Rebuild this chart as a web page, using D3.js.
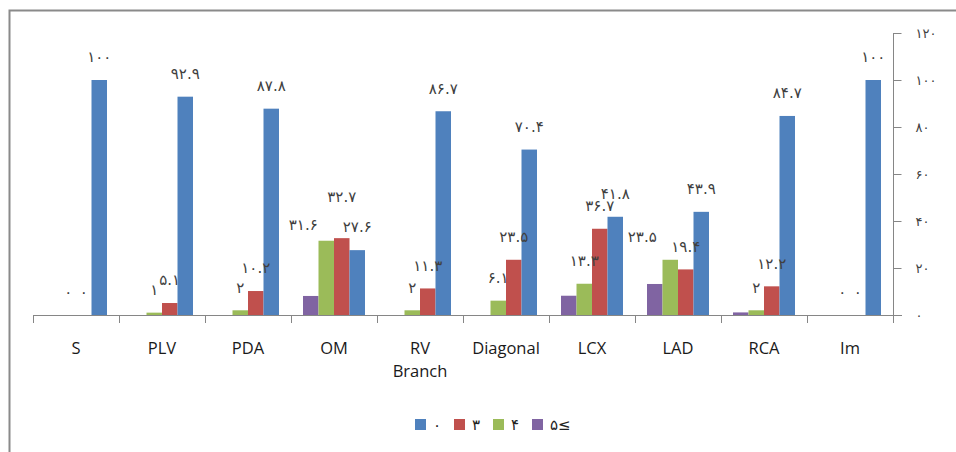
<!DOCTYPE html>
<html>
<head>
<meta charset="utf-8">
<script src="https://cdn.jsdelivr.net/npm/d3@7"></script>
<style>
  body { margin: 0; background: #fff; }
  svg { display: block; }
  .val { font-family: "DejaVu Sans", sans-serif; font-size: 15px; fill: #404040; }
  .cat { font-family: "Open Sans", sans-serif; font-size: 16.5px; fill: #1a1a1a; }
  .tick text { font-family: "DejaVu Sans", sans-serif; font-size: 13px; fill: #404040; }
  .leg { font-family: "DejaVu Sans", sans-serif; font-size: 15px; fill: #222; }
</style>
</head>
<body>
<script>
// chart data
const categories = ["S", "PLV", "PDA", "OM", "RV Branch", "Diagonal", "LCX", "LAD", "RCA", "Im"];
const seriesKeys = ["0", "3", "4", "5≤"];
const seriesLabels = ["۰", "۳", "۴", "۵≤"];
const values0 = [100, 92.9, 87.8, 27.6, 86.7, 70.4, 41.8, 43.9, 84.7, 100];
const values3 = [0, 5.1, 10.2, 32.7, 11.3, 23.5, 36.7, 19.4, 12.2, 0];
const values4 = [0, 1, 2, 31.6, 2, 6.1, 13.3, 23.5, 2, 0];
const values5 = [null, null, null, 8.1, null, null, 8.2, 13.2, 1.1, null];
const yTicks = [0, 20, 40, 60, 80, 100, 120];

const colors = {"0": "#4F81BD", "3": "#C0504D", "4": "#9BBB59", "5≤": "#8064A2"};
const barOrder = ["5≤", "4", "3", "0"];
const showLabel = {"0": true, "3": true, "4": true, "5≤": false};
// hand-moved labels in the original
const labelNudge = {"OM|4": [-23, 7], "OM|3": [0, -18], "LAD|4": [-28, 0]};

const faDigits = "۰۱۲۳۴۵۶۷۸۹";
const toFa = v => String(v).replace(/[0-9]/g, d => faDigits[+d]);

const rows = categories.map((c, i) => ({
  cat: c,
  "0": values0[i], "3": values3[i], "4": values4[i], "5≤": values5[i]
}));

const width = 956, height = 452;
const svg = d3.select("body").append("svg")
  .attr("width", width).attr("height", height);

// outer frame
svg.append("path")
  .attr("d", "M9.5,452V10.5H956")
  .attr("fill", "none").attr("stroke", "#8a8a8a").attr("stroke-width", 2);

const x0 = d3.scaleBand().domain(categories).range([33, 893]);
const x1 = d3.scaleBand().domain(barOrder).range([12, x0.bandwidth() - 12]);
const y = d3.scaleLinear().domain([0, 120]).range([315, 33]);

// bars
const groups = svg.append("g").selectAll("g")
  .data(rows).enter().append("g")
  .attr("transform", d => "translate(" + x0(d.cat) + ",0)");

groups.selectAll("rect")
  .data(d => barOrder.filter(k => d[k] != null).map(k => ({key: k, value: d[k]})))
  .enter().append("rect")
  .attr("x", d => x1(d.key))
  .attr("y", d => y(d.value))
  .attr("width", x1.bandwidth())
  .attr("height", d => y(0) - y(d.value))
  .attr("fill", d => colors[d.key]);

// value labels
groups.selectAll("text")
  .data(d => barOrder.filter(k => d[k] != null && showLabel[k]).map(k => ({cat: d.cat, key: k, value: d[k]})))
  .enter().append("text")
  .attr("class", "val")
  .attr("text-anchor", "middle")
  .attr("dy", "0.35em")
  .attr("x", d => x1(d.key) + x1.bandwidth() / 2 + (labelNudge[d.cat + "|" + d.key] || [0, 0])[0])
  .attr("y", d => y(d.value) - 23 + (labelNudge[d.cat + "|" + d.key] || [0, 0])[1])
  .text(d => toFa(d.value));

// category axis
const axisColor = "#868686";
svg.append("line")
  .attr("x1", 33).attr("x2", 902).attr("y1", y(0) + 0.5).attr("y2", y(0) + 0.5)
  .attr("stroke", axisColor);
svg.append("g").selectAll("line")
  .data(categories).enter().append("line")
  .attr("x1", d => x0(d) + 0.5).attr("x2", d => x0(d) + 0.5)
  .attr("y1", y(0)).attr("y2", y(0) + 8)
  .attr("stroke", axisColor);

const catText = svg.append("g").selectAll("text")
  .data(categories).enter().append("text")
  .attr("class", "cat")
  .attr("text-anchor", "middle")
  .attr("x", d => x0(d) + x0.bandwidth() / 2)
  .attr("y", 354);
catText.each(function(d) {
  const parts = d.split(" ");
  parts.forEach((p, i) => {
    d3.select(this).append("tspan")
      .attr("x", x0(d) + x0.bandwidth() / 2)
      .attr("dy", i === 0 ? 0 : 23)
      .text(p);
  });
});

// right value axis
const yAxis = svg.append("g")
  .attr("transform", "translate(893.5,0)")
  .call(d3.axisRight(y).tickValues(yTicks).tickSize(8).tickPadding(14).tickFormat(toFa));
yAxis.select(".domain").remove();
yAxis.selectAll(".tick line").attr("stroke", axisColor);
yAxis.selectAll(".tick text").attr("text-anchor", "start");
yAxis.append("line")
  .attr("y1", 33).attr("y2", 323)
  .attr("stroke", axisColor);

// legend
const legend = svg.append("g").selectAll("g")
  .data(seriesKeys).enter().append("g")
  .attr("transform", (d, i) => "translate(" + (415 + i * 39) + ",419)");
legend.append("rect")
  .attr("width", 11).attr("height", 11)
  .attr("fill", d => colors[d]);
legend.append("text")
  .attr("class", "leg")
  .attr("x", 18).attr("y", 6).attr("dy", "0.35em")
  .text((d, i) => seriesLabels[i]);
</script>
</body>
</html>
